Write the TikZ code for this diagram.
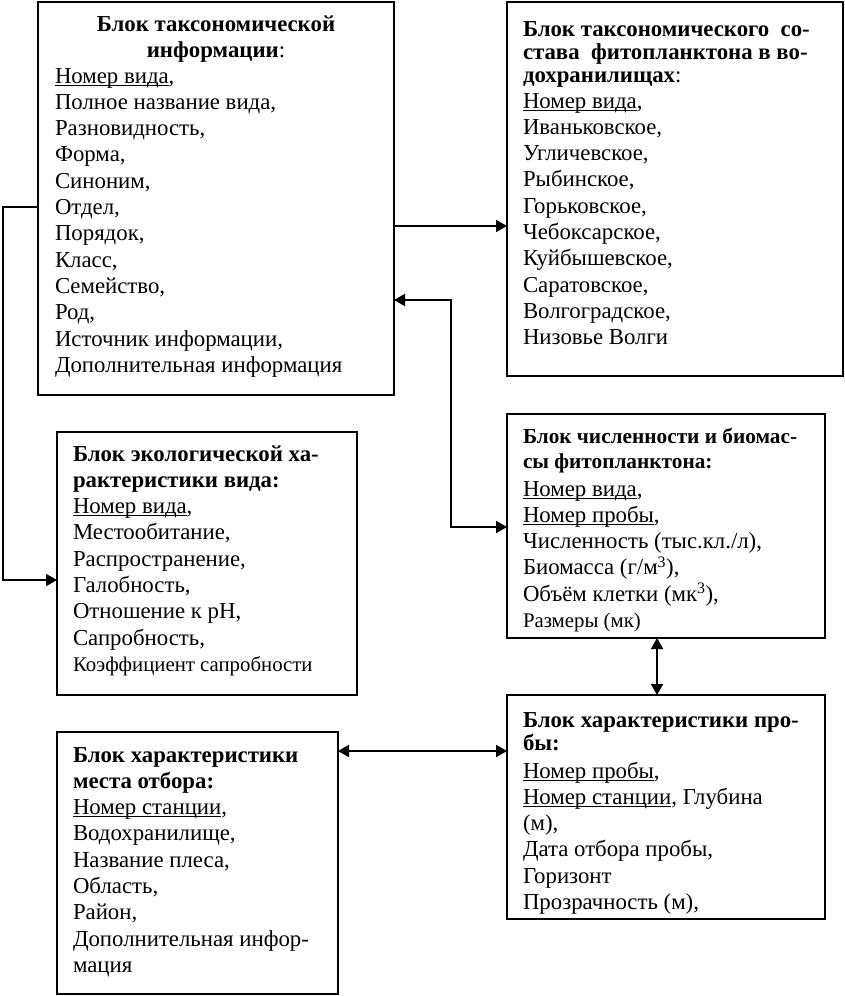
\documentclass[tikz,border=0pt]{standalone}
\usepackage{fontspec}
\setmainfont{Liberation Serif}
\usetikzlibrary{arrows.meta,calc}
\newcommand{\nf}{\fontsize{22.8}{26.3}\selectfont}
\newcommand{\smf}{\fontsize{20.8}{26}\selectfont}
\newcommand{\ud}[1]{\setbox0\hbox{#1}\rlap{\rule[-2.6pt]{\wd0}{1.1pt}}\box0}
\begin{document}
\begin{tikzpicture}[x=1pt,y=-1pt,
  blk/.style={draw, line width=2.2pt, inner sep=0pt, outer sep=0pt, anchor=north west, rectangle},
  txt/.style={anchor=base west, inner sep=0pt, outer sep=0pt, font=\nf},
  ttl/.style={anchor=base west, inner sep=0pt, outer sep=0pt, font=\fontsize{22.8}{23}\selectfont},
  conn/.style={line width=1.8pt},
  tip/.tip={Triangle[length=11pt,width=12pt]},
  one/.style={conn, -tip},
  dbl/.style={conn, tip-tip}]
\useasboundingbox (0,0) rectangle (845,996);

% boxes
\node[blk, minimum width=356pt, minimum height=393pt] (b1) at (38,2) {};
\node[blk, minimum width=336pt, minimum height=374pt] (b2) at (507,2) {};
\node[blk, minimum width=300pt, minimum height=263pt] (b3) at (57,432) {};
\node[blk, minimum width=318pt, minimum height=224pt] (b4) at (507,414) {};
\node[blk, minimum width=281pt, minimum height=262pt] (b5) at (57,732) {};
\node[blk, minimum width=318pt, minimum height=224pt] (b6) at (507,695) {};

% box 1
\node[anchor=base, inner sep=0pt, font=\fontsize{22.8}{26.5}\selectfont] (t1) at ($(b1.north)+(0,29)$)
 {\begin{tabular}[t]{@{}c@{}}\textbf{Блок таксономической}\\\textbf{информации}:\end{tabular}};
\node[txt] (i1) at ($(b1.north west)+(17,81)$)
 {\begin{tabular}[t]{@{}l@{}}
 \ud{Номер вида},\\
 Полное название вида,\\
 Разновидность,\\
 Форма,\\
 Синоним,\\
 Отдел,\\
 Порядок,\\
 Класс,\\
 Семейство,\\
 Род,\\
 Источник информации,\\
 Дополнительная информация
 \end{tabular}};

% box 2
\node[ttl] (t2) at ($(b2.north west)+(16,34)$)
 {\begin{tabular}[t]{@{}l@{}}
 \textbf{Блок таксономического\ \ со-}\\
 \textbf{става\ \ фитопланктона в во-}\\
 \textbf{дохранилищах}:
 \end{tabular}};
\node[txt] (i2) at ($(b2.north west)+(16,106)$)
 {\begin{tabular}[t]{@{}l@{}}
 \ud{Номер вида},\\
 Иваньковское,\\
 Угличевское,\\
 Рыбинское,\\
 Горьковское,\\
 Чебоксарское,\\
 Куйбышевское,\\
 Саратовское,\\
 Волгоградское,\\
 Низовье Волги
 \end{tabular}};

% box 3
\node[txt] (i3) at ($(b3.north west)+(16,29)$)
 {\begin{tabular}[t]{@{}l@{}}
 \textbf{Блок экологической ха-}\\
 \textbf{рактеристики вида:}\\
 \ud{Номер вида},\\
 Местообитание,\\
 Распространение,\\
 Галобность,\\
 Отношение к pH,\\
 Сапробность,\\
 {\smf Коэффициент сапробности}
 \end{tabular}};

% box 4
\node[ttl, font=\fontsize{21.3}{25}\selectfont] (t4) at ($(b4.north west)+(16,29)$)
 {\begin{tabular}[t]{@{}l@{}}
 \textbf{Блок численности и биомас-}\\
 \textbf{сы фитопланктона:}
 \end{tabular}};
\node[txt] (i4) at ($(b4.north west)+(16,82)$)
 {\begin{tabular}[t]{@{}l@{}}
 \ud{Номер вида},\\
 \ud{Номер пробы},\\
 Численность (тыс.кл./л),\\
 Биомасса (г/м\textsuperscript{3}),\\
 Объём клетки (мк\textsuperscript{3}),\\
 {\smf Размеры (мк)}
 \end{tabular}};

% box 5
\node[txt] (i5) at ($(b5.north west)+(16,30)$)
 {\begin{tabular}[t]{@{}l@{}}
 \textbf{Блок характеристики}\\
 \textbf{места отбора:}\\
 \ud{Номер станции},\\
 Водохранилище,\\
 Название плеса,\\
 Область,\\
 Район,\\
 Дополнительная инфор-\\
 мация
 \end{tabular}};

% box 6
\node[ttl] (t6) at ($(b6.north west)+(16,32)$)
 {\begin{tabular}[t]{@{}l@{}}
 \textbf{Блок характеристики про-}\\
 \textbf{бы:}
 \end{tabular}};
\node[txt] (i6) at ($(b6.north west)+(16,83)$)
 {\begin{tabular}[t]{@{}l@{}}
 \ud{Номер пробы},\\
 \ud{Номер станции}, Глубина\\
 (м),\\
 Дата отбора пробы,\\
 Горизонт\\
 Прозрачность (м),
 \end{tabular}};

% connectors
\coordinate (lbus) at (3,0);
\coordinate (l1) at ($(b1.north west)+(0,205)$);
\coordinate (l3) at ($(b3.north west)+(0,148)$);
\draw[one] (l1) -- (l1 -| lbus) |- (l3);

\coordinate (r1) at ($(b1.north east)+(0,224)$);
\draw[one] (r1) -- (r1 -| b2.west);

\coordinate (bend) at (451,0);
\coordinate (c1) at ($(b1.north east)+(0,298)$);
\coordinate (c4) at ($(b4.north west)+(0,113)$);
\draw[dbl] (c1) -- (c1 -| bend) |- (c4);

\coordinate (vx) at (657,0);
\draw[dbl] (b4.south -| vx) -- (b6.north -| vx);

\coordinate (h5) at ($(b5.north east)+(0,19)$);
\draw[dbl] (h5) -- (h5 -| b6.west);
\end{tikzpicture}
\end{document}
